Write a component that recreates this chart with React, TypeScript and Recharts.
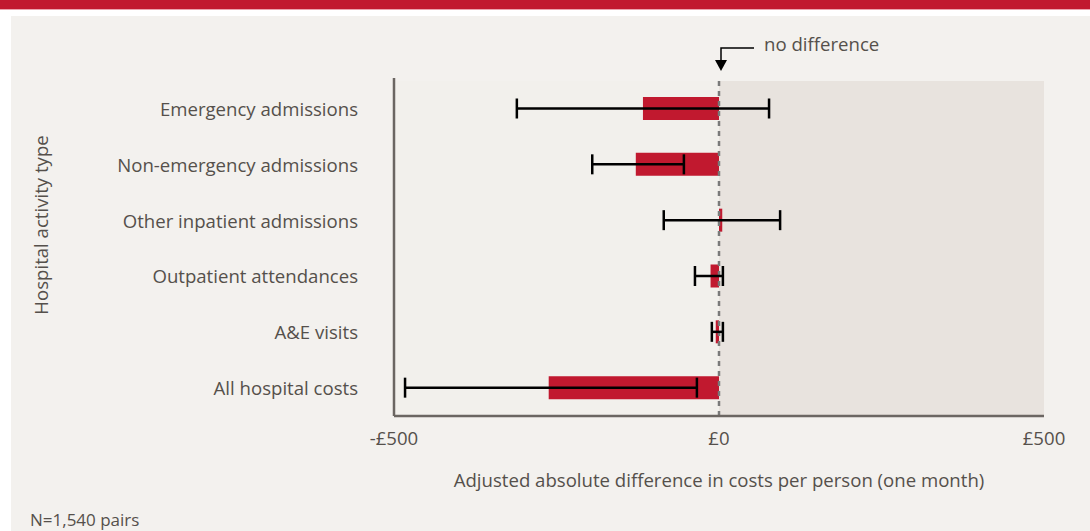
import {
  BarChart,
  Bar,
  XAxis,
  YAxis,
  ErrorBar,
  ReferenceArea,
  ReferenceLine,
} from "recharts";

// ── Data ──────────────────────────────────────────────────────────────────────

const categories = [
  "Emergency admissions",
  "Non-emergency admissions",
  "Other inpatient admissions",
  "Outpatient attendances",
  "A&E visits",
  "All hospital costs",
];
const diffs = [-117, -128, 5, -13, -5, -262];
const lowerCI = [-311, -195, -85, -37, -11, -483];
const upperCI = [77, -54, 94, 6, 6, -34];
const xTicks = [-500, 0, 500];

const data = categories.map((name, i) => ({
  name,
  value: diffs[i],
  err: [diffs[i] - lowerCI[i], upperCI[i] - diffs[i]],
}));

const FONT = "'Open Sans', Lato, sans-serif";
const TEXT = "#55504b";
const RED = "#c1192f";
const FS = 18.6;

// ── Custom pieces ─────────────────────────────────────────────────────────────

function CategoryTick({ y, payload }: any) {
  return (
    <text x={358} y={y} dy={7} textAnchor="end" fontSize={FS} fill={TEXT} fontFamily={FONT}>
      {payload.value}
    </text>
  );
}

function MoneyTick({ x, y, payload }: any) {
  const v = payload.value as number;
  const s = v < 0 ? `-£${Math.abs(v)}` : `£${v}`;
  return (
    <text x={x} y={y} dy={21} textAnchor="middle" fontSize={FS} fill={TEXT} fontFamily={FONT}>
      {s}
    </text>
  );
}

function NoDiffLabel({ viewBox }: any) {
  const x = viewBox.x + 2;
  const top = viewBox.y;
  return (
    <g>
      <path d={`M${x + 33},${top - 30} H${x} V${top - 14}`} fill="none" stroke="#000" strokeWidth={1.5} />
      <path d={`M${x - 6},${top - 18} L${x + 6},${top - 18} L${x},${top - 7} Z`} fill="#000" />
      <text x={x + 43} y={top - 27} fontSize={FS} fill={TEXT} fontFamily={FONT}>
        no difference
      </text>
    </g>
  );
}

function YTitle({ viewBox }: any) {
  const cy = viewBox.y + viewBox.height / 2 - 22;
  return (
    <text
      x={48}
      y={cy}
      transform={`rotate(-90, 48, ${cy})`}
      textAnchor="middle"
      fontSize={FS}
      fill={TEXT}
      fontFamily={FONT}
    >
      Hospital activity type
    </text>
  );
}

function XTitle({ viewBox }: any) {
  return (
    <text
      x={viewBox.x + viewBox.width / 2}
      y={viewBox.y + 71}
      textAnchor="middle"
      fontSize={FS}
      fill={TEXT}
      fontFamily={FONT}
    >
      Adjusted absolute difference in costs per person (one month)
    </text>
  );
}

// ── Main ──────────────────────────────────────────────────────────────────────

export default function App() {
  return (
    <div style={{ position: "absolute", left: 0, top: 0, width: 1090, height: 531, background: "#fff", overflow: "hidden" }}>
      <div style={{ position: "absolute", left: 0, top: 0, width: 1090, height: 9, background: RED }} />
      <div style={{ position: "absolute", left: 0, top: 9, width: 1090, height: 1, background: "#eba3ad" }} />
      <div style={{ position: "absolute", left: 11, top: 16, width: 1079, height: 515, background: "#f3f1ee" }} />

      <div style={{ position: "absolute", left: 0, top: 0 }}>
        <BarChart
          width={1090}
          height={531}
          data={data}
          layout="vertical"
          margin={{ top: 78, right: 46, bottom: 0, left: 0 }}
          barCategoryGap={0}
        >
          <ReferenceArea x1={-500} x2={0} fill="#f2f0ec" fillOpacity={1} stroke="none" ifOverflow="visible" />
          <ReferenceArea x1={0} x2={500} fill="#e8e3de" fillOpacity={1} stroke="none" ifOverflow="visible" />

          <XAxis
            type="number"
            domain={[-500, 500]}
            ticks={xTicks}
            height={115}
            tick={<MoneyTick />}
            tickLine={false}
            axisLine={{ stroke: "#6b6662", strokeWidth: 2.5 }}
            label={<XTitle />}
          />
          <YAxis
            type="category"
            dataKey="name"
            width={394}
            padding={{ top: 3, bottom: 0 }}
            tick={<CategoryTick />}
            tickLine={false}
            axisLine={{ stroke: "#6b6662", strokeWidth: 2.5 }}
            label={<YTitle />}
          />

          <ReferenceLine
            x={0}
            stroke="#7a7a7a"
            strokeWidth={2.5}
            strokeDasharray="5 5"
            label={<NoDiffLabel />}
          />

          <Bar dataKey="value" fill={RED} barSize={23} isAnimationActive={false}>
            <ErrorBar dataKey="err" direction="x" width={10} strokeWidth={2.5} stroke="#000" />
          </Bar>
        </BarChart>
      </div>

      <div style={{ position: "absolute", left: 30, top: 508, fontSize: 17, color: TEXT, fontFamily: FONT }}>
        N=1,540 pairs
      </div>
    </div>
  );
}
